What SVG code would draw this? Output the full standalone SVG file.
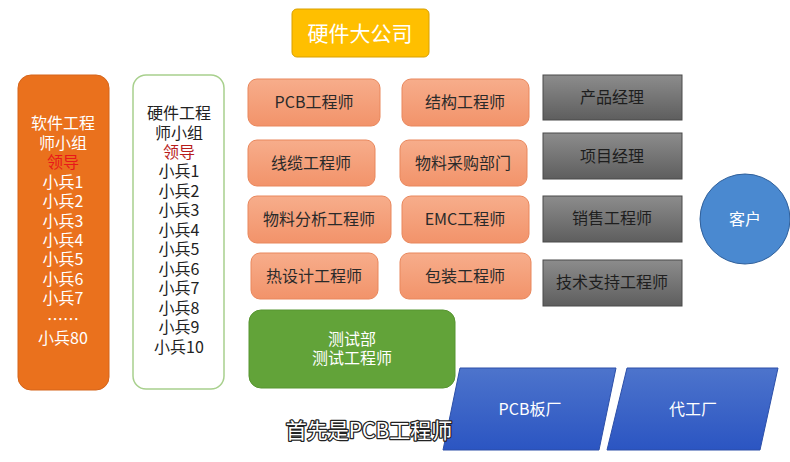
<svg xmlns="http://www.w3.org/2000/svg" width="790" height="462" viewBox="0 0 790 462">
<style>
text{font-family:"Noto Sans CJK SC","Liberation Sans",sans-serif;text-anchor:middle;dominant-baseline:central}
.role rect{fill:url(#og);stroke:#e9875c;stroke-width:1}
.role text{font-size:16px;fill:#2a2a2a}
.mgr rect{fill:url(#gg);stroke:#4a4a4a;stroke-width:1}
.mgr text{font-size:16px;fill:#1e1e1e}
.sw{font-size:16px;fill:#fff}
.hw{font-size:16px;fill:#222}
.red{fill:#e8181a}
.hwred{fill:#b81c1c}
.fac path{fill:url(#bg);stroke:#2c4fa8;stroke-width:1}
.fac text{font-size:16px;fill:#fff}
</style>
<defs>
<linearGradient id="og" x1="0" y1="0" x2="0" y2="1"><stop offset="0" stop-color="#f7ad8b"/><stop offset="1" stop-color="#f2936a"/></linearGradient>
<linearGradient id="gg" x1="0" y1="0" x2="0" y2="1"><stop offset="0" stop-color="#8c8c8c"/><stop offset="1" stop-color="#5e5e5e"/></linearGradient>
<linearGradient id="bg" x1="0" y1="0" x2="0" y2="1"><stop offset="0" stop-color="#4d74cc"/><stop offset="1" stop-color="#2b55c2"/></linearGradient>
</defs>
<rect width="790" height="462" fill="#fff"/>
<g id="company">
<rect x="292" y="9" width="137" height="48" rx="5" fill="#ffbf00" stroke="#d9a000"/>
<text x="360" y="32" style="font-size:21px;fill:#fff">硬件大公司</text>
</g>
<g id="software-group">
<rect x="18" y="75" width="91" height="315" rx="13" fill="#ea711d" stroke="#d5641a"/>
<text class="sw" x="63" y="122"><tspan x="63" y="122">软件工程</tspan><tspan x="63" y="142">师小组</tspan><tspan class="red" x="63" y="161">领导</tspan><tspan x="63" y="181">小兵1</tspan><tspan x="63" y="200">小兵2</tspan><tspan x="63" y="220">小兵3</tspan><tspan x="63" y="239">小兵4</tspan><tspan x="63" y="258">小兵5</tspan><tspan x="63" y="278">小兵6</tspan><tspan x="63" y="297">小兵7</tspan><tspan x="63" y="318">……</tspan><tspan x="63" y="337">小兵80</tspan></text>
</g>
<g id="hardware-group">
<rect x="133" y="75" width="91" height="314" rx="13" fill="#fff" stroke="#a8d08d" stroke-width="1.5"/>
<text class="hw" x="179" y="112"><tspan x="179" y="112">硬件工程</tspan><tspan x="179" y="132">师小组</tspan><tspan class="hwred" x="179" y="151">领导</tspan><tspan x="179" y="170">小兵1</tspan><tspan x="179" y="190">小兵2</tspan><tspan x="179" y="209">小兵3</tspan><tspan x="179" y="229">小兵4</tspan><tspan x="179" y="248">小兵5</tspan><tspan x="179" y="268">小兵6</tspan><tspan x="179" y="287">小兵7</tspan><tspan x="179" y="307">小兵8</tspan><tspan x="179" y="326">小兵9</tspan><tspan x="179" y="346">小兵10</tspan></text>
</g>
<g id="pcb" class="role"><rect x="248" y="79" width="132" height="47" rx="9"/><text x="314" y="101">PCB工程师</text></g>
<g id="structure" class="role"><rect x="402" y="79" width="127" height="47" rx="9"/><text x="465" y="101">结构工程师</text></g>
<g id="cable" class="role"><rect x="248" y="140" width="127" height="46" rx="9"/><text x="311" y="162">线缆工程师</text></g>
<g id="purchase" class="role"><rect x="400" y="140" width="127" height="46" rx="9"/><text x="463" y="162">物料采购部门</text></g>
<g id="material" class="role"><rect x="248" y="196" width="143" height="47" rx="9"/><text x="319" y="218">物料分析工程师</text></g>
<g id="emc" class="role"><rect x="402" y="196" width="127" height="47" rx="9"/><text x="465" y="218">EMC工程师</text></g>
<g id="thermal" class="role"><rect x="251" y="253" width="127" height="46" rx="9"/><text x="314" y="275">热设计工程师</text></g>
<g id="package" class="role"><rect x="400" y="253" width="131" height="46" rx="9"/><text x="465" y="275">包装工程师</text></g>
<g id="test">
<rect x="249" y="310" width="206" height="78" rx="12" fill="#62a339" stroke="#579530"/>
<text x="352" y="338" style="font-size:16px;fill:#fff"><tspan x="352" y="338">测试部</tspan><tspan x="352" y="357">测试工程师</tspan></text>
</g>
<g id="product-mgr" class="mgr"><rect x="543" y="75" width="139" height="45"/><text x="612" y="96">产品经理</text></g>
<g id="project-mgr" class="mgr"><rect x="543" y="133" width="139" height="46"/><text x="612" y="155">项目经理</text></g>
<g id="sales" class="mgr"><rect x="543" y="196" width="139" height="46"/><text x="612" y="217">销售工程师</text></g>
<g id="support" class="mgr"><rect x="543" y="260" width="139" height="46"/><text x="612" y="281">技术支持工程师</text></g>
<g id="customer">
<circle cx="745" cy="219" r="45" fill="#4a89d0" stroke="#2f5f9a"/>
<text x="745" y="218" style="font-size:16px;fill:#fff">客户</text>
</g>
<g id="pcb-factory" class="fac"><path d="M460 368 L616 368 L599 450 L443 450 Z"/><text x="530" y="408">PCB板厂</text></g>
<g id="oem-factory" class="fac"><path d="M627 368 L778 368 L760 450 L607 450 Z"/><text x="693" y="408">代工厂</text></g>
<g id="connectors"></g>
<text x="369" y="429" style="font-size:21px;fill:#fff;stroke:#222;stroke-width:2.5;paint-order:stroke;stroke-linejoin:round">首先是PCB工程师</text>
</svg>
